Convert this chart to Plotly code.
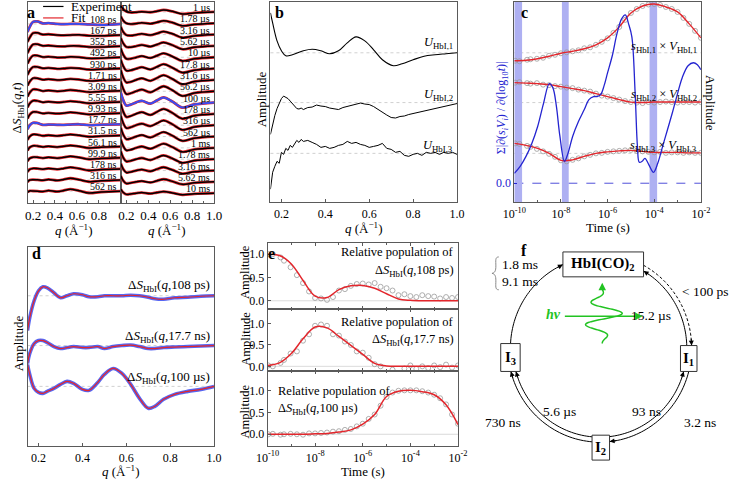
import math
import plotly.graph_objects as go

W, H = 740, 480
SERIF = "Liberation Serif"
RED = "#e3262c"
BLUE = "#2424d0"
DBLUE = "#3a4cf0"
GRAY = "#9a9a9a"
FRAME = "#5a5a5a"
GREEN = "#22c322"

# ---------------- Panel a data ----------------
qa = [0.15, 0.17, 0.2, 0.24, 0.29, 0.34, 0.42, 0.48, 0.54, 0.62, 0.71, 0.82, 1.0]
a_left_labels = ["108 ps", "167 ps", "352 ps", "492 ps", "930 ps", "1.71 ns", "3.09 ns", "5.55 ns",
                 "9.93 ns", "17.7 ns", "31.5 ns", "56.1 ns", "99.9 ns", "178 ns", "316 ns", "562 ns"]
a_left_curves = [
    [-8, -3, 2, 2.5, 0.5, 0.8, 0, -0.3, 0, 0, -0.5, -1, 0],
    [-7, -2.5, 2, 2.2, 0.5, 0.8, 0, -0.3, 0, 0.2, -0.6, -0.8, 0],
    [-7, -2.5, 1.8, 2, 0.4, 0.7, -0.1, -0.2, 0.3, 0.2, -0.8, -0.8, 0],
    [-6.5, -2, 1.8, 1.8, 0.3, 0.7, -0.2, -0.1, 0.5, 0.2, -1, -0.8, 0],
    [-6.5, -2, 1.6, 1.6, 0.2, 0.6, -0.3, 0, 0.6, 0.2, -1.1, -0.7, 0],
    [-6, -2, 1.5, 1.4, 0, 0.5, -0.4, 0, 0.7, 0.1, -1.2, -0.7, 0],
    [-6, -1.8, 1.4, 1.2, -0.2, 0.4, -0.5, 0, 0.8, 0, -1.3, -0.6, 0],
    [-5.5, -1.5, 1.3, 1.1, -0.3, 0.3, -0.5, 0, 0.8, 0, -1.3, -0.6, 0],
    [-5.5, -1.5, 1.2, 1, -0.3, 0.2, -0.5, 0, 0.8, 0, -1.3, -0.6, 0],
    [-5, -1, 1.5, 1.2, -0.6, -0.3, -0.5, -0.6, -0.3, 0, -0.9, -0.4, 0],
    [-4.5, -1, 1, 0.8, -0.3, 0.2, -0.5, 0.2, 1, 0.1, -1.3, -0.6, 0],
    [-4, -0.8, 0.8, 0.6, -0.3, 0.3, -0.5, 0.3, 1.2, 0.2, -1.4, -0.6, 0],
    [-3.5, -0.6, 0.6, 0.5, -0.3, 0.4, -0.4, 0.4, 1.4, 0.3, -1.5, -0.7, 0],
    [-3, -0.4, 0.5, 0.3, -0.3, 0.5, -0.4, 0.5, 1.6, 0.3, -1.6, -0.7, 0],
    [-2, 0, 0.4, 0.2, -0.3, 0.6, -0.4, 0.6, 1.8, 0.4, -1.7, -0.8, 0],
    [-1, 0.3, 0.2, 0, -0.4, 0.6, -0.4, 0.7, 2, 0.4, -1.8, -0.8, 0],
]
a_right_labels = ["1 µs", "1.78 µs", "3.16 µs", "5.62 µs", "10 µs", "17.8 µs", "31.6 µs", "56.2 µs",
                  "100 µs", "178 µs", "316 µs", "562 µs", "1 ms", "1.78 ms", "3.16 ms", "5.62 ms", "10 ms"]
a_right_curves = [
    [6, 3, 0.5, -0.5, -0.3, 0.3, -0.3, 0.8, 2, 0.6, -2, -1, 0],
    [7, 3, 0, -0.8, -0.3, 0.5, -0.4, 1, 2.5, 0.7, -2.5, -1.2, 0],
    [8, 3, -0.5, -1, -0.2, 0.8, -0.5, 1.2, 3, 0.8, -3, -1.3, 0],
    [8, 3, -1, -1.2, -0.2, 1, -0.6, 1.4, 3.5, 0.8, -3.3, -1.4, 0],
    [9, 3, -1.5, -1.5, -0.2, 1.2, -0.7, 1.6, 4, 0.8, -3.6, -1.5, 0],
    [9, 3, -2, -1.7, -0.1, 1.4, -0.8, 1.8, 4.4, 0.9, -4, -1.6, 0],
    [10, 3, -2.5, -1.9, 0, 1.6, -0.9, 2, 4.8, 0.9, -4.4, -1.7, 0],
    [10, 3, -2.8, -2, 0, 1.7, -1, 2.1, 5, 1, -4.7, -1.8, 0],
    [10, 3, -3, -2, 0.2, 1.8, -1, 2.2, 5.2, 1, -5, -1.9, 0],
    [10, 2.8, -3, -2.1, 0.1, 1.7, -1, 2.1, 5, 1, -4.8, -1.8, 0],
    [9.5, 2.7, -2.8, -2, 0.1, 1.6, -0.9, 2, 4.8, 0.9, -4.6, -1.7, 0],
    [9, 2.5, -2.6, -1.9, 0, 1.5, -0.9, 1.9, 4.5, 0.9, -4.3, -1.6, 0],
    [8.5, 2.3, -2.4, -1.8, 0, 1.4, -0.8, 1.8, 4.2, 0.8, -4, -1.5, 0],
    [8, 2, -2.2, -1.6, 0, 1.2, -0.8, 1.6, 3.8, 0.7, -3.6, -1.4, 0],
    [7, 1.8, -2, -1.4, 0, 1, -0.7, 1.4, 3.3, 0.6, -3.1, -1.2, 0],
    [6, 1.5, -1.6, -1.1, 0, 0.8, -0.6, 1.1, 2.6, 0.5, -2.5, -1, 0],
    [4, 1, -1.2, -0.8, 0, 0.6, -0.4, 0.7, 1.6, 0.3, -1.6, -0.6, 0],
]
a_highlight = ["108 ps", "17.7 ns", "100 µs"]

# ---------------- Panel b data ----------------
qb = [0.15, 0.16, 0.18, 0.2, 0.22, 0.25, 0.3, 0.34, 0.38, 0.42, 0.46, 0.5, 0.54, 0.58, 0.62, 0.66,
      0.71, 0.75, 0.8, 0.85, 0.9, 0.95, 1.0]
u1 = [40, 30, 12, 2, -3, -2, 2, 3.5, 2, -1, 2, 10, 16, 12, 3, -7, -13, -11, -7, -3.5, -2, -1, 0]
qb2 = [0.15, 0.16, 0.17, 0.18, 0.19, 0.2, 0.21, 0.22, 0.23, 0.24, 0.25, 0.26, 0.27, 0.28, 0.29, 0.3,
       0.32, 0.34, 0.36, 0.38, 0.4, 0.42, 0.44, 0.46, 0.48, 0.5, 0.52, 0.54, 0.56, 0.58, 0.6, 0.62,
       0.64, 0.66, 0.68, 0.7, 0.72, 0.74, 0.76, 0.78, 0.8, 0.82, 0.84, 0.86, 0.88, 0.9, 0.92, 0.94,
       0.96, 0.98, 1.0]
u2 = [-32, -22, -13, -6, -1, 4, 6.5, 5, 4, 1.5, -1, -3.5, -6, -6.5, -5.5, -7, -5, -4.5, -2.5, -3.5,
      -4, -5.5, -6, -7, -5, -4, -3, -1.5, -0.5, -1.5, -2, -4, -7, -10, -12.5, -15, -15.5, -14, -13.5,
      -12, -11, -10.5, -9, -8.5, -7, -6.5, -5, -4.5, -3.5, -2.5, -1]
u3 = [-36, -19, -13, -8, -10, 1, -1, 5, 3, 8, 6, 10, 13, 11, 14, 12, 13, 11, 9, 6, 7, 5, 6, 8, 9, 12,
      10, 11, 9, 8, 6, 7, 8, 10, 5, 4, 1, 2, -2, -3, -1, 0, -2, 1, 0, 1, -1, 1, 0, 1, -1]
b_labels = ["<i>U</i><sub>HbI,1</sub>", "<i>U</i><sub>HbI,2</sub>", "<i>U</i><sub>HbI,3</sub>"]

# ---------------- Panel c / e data ----------------
fit_t = [1e-10, 3.16e-10, 1e-9, 3.16e-9, 1e-8, 3.16e-8, 1e-7, 3.16e-7, 1e-6, 3.16e-6, 1e-5,
         3.16e-5, 1e-4, 3.16e-4, 1e-3, 3.16e-3, 1e-2]
delays = [108e-12, 167e-12, 352e-12, 492e-12, 930e-12, 1.71e-9, 3.09e-9, 5.55e-9, 9.93e-9, 17.7e-9,
          31.5e-9, 56.1e-9, 99.9e-9, 178e-9, 316e-9, 562e-9, 1e-6, 1.78e-6, 3.16e-6, 5.62e-6, 10e-6,
          17.8e-6, 31.6e-6, 56.2e-6, 100e-6, 178e-6, 316e-6, 562e-6, 1e-3, 1.78e-3, 3.16e-3, 5.62e-3,
          10e-3]
c1_fit = [-8, -7.5, -6, -3.5, -0.5, 1.5, 4, 8, 15, 26, 40, 47, 49, 46, 41, 29, 15]
c2_fit = [20, 19.5, 19, 18, 16, 14, 12, 9, 6, 3, 0.5, 0, 0.5, 0.5, 0.5, 0.5, 0.5]
c3_fit = [10, 8, 5, 0, -7, -6.5, -3, 0, 1.5, 2.5, 3, 2, 1, 1, 1, 0.5, 0.5]
c1_data = [-8, -8.5, -7, -6.5, -6, -5, -3, -2, -0.5, 0.5, 1.5, 2.5, 4.5, 5.5, 8, 11, 14.5, 20, 26, 33,
           40, 44, 47, 48.5, 49, 48, 46, 44, 41, 35, 29, 22, 15]
c2_data = [20, 20.5, 19.5, 19, 19.5, 18, 17.5, 16.5, 16, 15, 14.5, 13, 12, 11, 9, 7, 6, 4.5, 3, 1.5,
           0.5, 0, -0.5, 0.5, 0, 0.5, 1, 0.5, 0, 0.5, 0.5, 0, 0.5]
c3_data = [10, 9.5, 7.5, 6.5, 4.5, 2, -0.5, -3.5, -7, -8, -6.5, -5, -3, -1.5, 0, 0.5, 1.5, 2, 2.5, 3,
           3.5, 2.5, 2, 1.5, 1, 1.5, 0.5, 1, 1, 0.5, 1, 0.5, 0.5]
c_labels = ["<i>s</i><sub>HbI,1</sub> × <i>V</i><sub>HbI,1</sub>",
            "<i>s</i><sub>HbI,2</sub> × <i>V</i><sub>HbI,2</sub>",
            "<i>s</i><sub>HbI,3</sub> × <i>V</i><sub>HbI,3</sub>"]
sum_logt = [-10, -9.75, -9.5, -9.25, -9, -8.75, -8.5, -8.35, -8.2, -8.05, -7.85, -7.7, -7.5, -7.25, -7,
            -6.8, -6.6, -6.45, -6.3, -6.15, -6, -5.8, -5.6, -5.4, -5.24, -5.1, -4.96, -4.82, -4.72,
            -4.64, -4.52, -4.4, -4.24, -4.03, -3.85, -3.64, -3.43, -3.22, -3.0, -2.8, -2.55, -2.32,
            -2.15, -2.0]
sum_vals = [10, 17, 27, 40, 57, 80, 100, 96, 78, 48, 22, 30, 47, 62, 74, 84, 87, 87, 89, 98, 111, 128,
            150, 165, 169, 160, 147, 91, 37, 21, 22, 25, 19, 11, 20, 37, 54, 71, 90, 106, 118, 121,
            119, 114]
band_t = [(1e-10, 2.15e-10), (1.1e-8, 2.15e-8), (6.3e-5, 1.33e-4)]

e1_fit = [1.0, 0.97, 0.79, 0.43, 0.1, 0.07, 0.24, 0.32, 0.33, 0.27, 0.15, 0.04, 0.01, 0, 0, 0, 0]
e2_fit = [0.02, 0.08, 0.3, 0.65, 0.92, 0.9, 0.7, 0.49, 0.28, 0.07, 0.01, 0, 0, 0, 0, 0, 0]
e3_fit = [0, 0, 0, 0, 0.01, 0.02, 0.05, 0.1, 0.23, 0.45, 0.86, 0.98, 1.0, 0.97, 0.9, 0.67, 0.22]
e1_data = [1.0, 1.0, 0.93, 0.86, 0.72, 0.55, 0.38, 0.2, 0.06, 0.05, 0.02, 0.08, 0.22, 0.25, 0.32, 0.36,
           0.37, 0.35, 0.38, 0.3, 0.27, 0.22, 0.12, 0.14, 0.1, 0.08, 0.12, 0.1, 0.09, 0.05, 0.08, 0.06,
           0.08]
e2_data = [0.02, 0.0, 0.08, 0.15, 0.3, 0.35, 0.6, 0.75, 0.95, 0.98, 0.95, 0.75, 0.72, 0.58, 0.5, 0.35,
           0.32, 0.2, 0.05, 0.0, -0.15, -0.08, -0.18, -0.05, 0.02, -0.06, 0.0, -0.04, 0.02, -0.02, 0.04,
           -0.03, 0.02]
e3_data = [0, 0.01, -0.01, 0.0, 0.01, 0.0, -0.01, 0.02, 0.02, 0.03, 0.04, 0.06, 0.07, 0.1, 0.12, 0.18,
           0.24, 0.35, 0.45, 0.65, 0.85, 0.95, 0.99, 1.0, 1.0, 1.0, 0.98, 0.95, 0.9, 0.82, 0.68, 0.45,
           0.24]
e_labels = ["Δ<i>S</i><sub>HbI</sub>(<i>q</i>,108 ps)", "Δ<i>S</i><sub>HbI</sub>(<i>q</i>,17.7 ns)",
            "Δ<i>S</i><sub>HbI</sub>(<i>q</i>,100 µs)"]

# ---------------- Panel d data ----------------
qd = [0.15, 0.16, 0.18, 0.2, 0.22, 0.24, 0.27, 0.3, 0.33, 0.36, 0.4, 0.43, 0.47, 0.5, 0.54, 0.58, 0.62,
      0.66, 0.7, 0.73, 0.77, 0.82, 0.88, 0.94, 1.0]
d108 = [-35, -22, -5, 5, 9, 8, 3, -2, 0, 2, 1, -1, -1, 0, 0, 0, 0.5, 0, -1.5, -3, -3.5, -2, -1.5, -0.5, 0]
d177 = [-18, -8, 2, 5, 5, 3, -1, -3, -2, -1, -2, -2, -1, -3, -1, 0, 0.5, -1, -3, -3, -2, -1.5, -1, -0.5, 0]
d100 = [22, 12, -2, -6, -7, -5, -2, 2, 5, 3, -3, -4, 4, 12, 18, 13, 2, -12, -22, -20, -13, -8, -5, -3, 0]

# ================= figure =================
fig = go.Figure()
shapes = []
anns = []


def xdom(x0, x1):
    return [x0 / W, x1 / W]


def ydom(top, bot):
    return [1 - bot / H, 1 - top / H]


def xax(x0, x1, anchor, rng, **kw):
    d = dict(domain=xdom(x0, x1), anchor=anchor, range=rng, showline=True, mirror=True,
             linecolor=FRAME, linewidth=1, ticks="inside", ticklen=3, tickcolor=FRAME,
             showgrid=False, zeroline=False, fixedrange=True,
             tickfont=dict(family=SERIF, size=12, color="black"))
    d.update(kw)
    return d


def yax(top, bot, anchor, **kw):
    d = dict(domain=ydom(top, bot), anchor=anchor, range=[-bot, -top], showline=True, mirror=True,
             linecolor=FRAME, linewidth=1, showgrid=False, zeroline=False, showticklabels=False,
             ticks="", fixedrange=True)
    d.update(kw)
    return d


def line(xs, ys, xa, ya, color, width, shape="spline", dash="solid", opacity=1.0):
    fig.add_trace(go.Scatter(x=xs, y=ys, xaxis=xa, yaxis=ya, mode="lines",
                             line=dict(color=color, width=width, shape=shape, dash=dash),
                             opacity=opacity, showlegend=False, hoverinfo="skip"))


def circles(xs, ys, xa, ya):
    fig.add_trace(go.Scatter(x=xs, y=ys, xaxis=xa, yaxis=ya, mode="markers",
                             marker=dict(symbol="circle-open", size=5, color=GRAY, line=dict(width=0.8)),
                             showlegend=False, hoverinfo="skip"))


def baseline(xa, ya, yv, color="#c4c4c4", dash="dot"):
    shapes.append(dict(type="line", xref=xa + " domain", yref=ya, x0=0, x1=1, y0=yv, y1=yv,
                       line=dict(color=color, width=0.8, dash=dash), layer="below"))


def text(x, y, s, size=12, xanchor="center", color="black", angle=0, yanchor="middle"):
    anns.append(dict(x=x, y=y, xref="x10", yref="y10", text=s, showarrow=False, xanchor=xanchor,
                     yanchor=yanchor, textangle=angle,
                     font=dict(family=SERIF, size=size, color=color)))


QT = "<i>q</i> (Å<sup>−1</sup>)"
TICK_T = [1e-10, 1e-8, 1e-6, 1e-4, 1e-2]
TICK_TT = ["10<sup>-10</sup>", "10<sup>-8</sup>", "10<sup>-6</sup>", "10<sup>-4</sup>", "10<sup>-2</sup>"]
MINOR_T = dict(tickvals=[1e-9, 1e-7, 1e-5, 1e-3], ticks="inside", ticklen=2, tickcolor=FRAME)

# ---------- panel a ----------
for i, (lab, vals) in enumerate(zip(a_left_labels, a_left_curves)):
    base = 24 + i * 11.2
    ys = [-base + v for v in vals]
    baseline("x", "y", -base)
    col = DBLUE if lab in a_highlight else "black"
    line(qa, ys, "x", "y", RED, 2.8)
    line(qa, ys, "x", "y", col, 2.0 if col == DBLUE else 1.5)
    text(110, base - 4.5, lab, size=10, xanchor="right")
for i, (lab, vals) in enumerate(zip(a_right_labels, a_right_curves)):
    base = 12 + i * 11.375
    ys = [-base + v for v in vals]
    baseline("x2", "y2", -base)
    col = DBLUE if lab in a_highlight else "black"
    line(qa, ys, "x2", "y2", RED, 2.8)
    line(qa, ys, "x2", "y2", col, 2.0 if col == DBLUE else 1.5)
    text(206, base - 4.5, lab, size=10, xanchor="right")

# legend of panel a
shapes.append(dict(type="line", xref="x10", yref="y10", x0=32, x1=53, y0=6.5, y1=6.5,
                   line=dict(color="black", width=1.2), layer="above"))
shapes.append(dict(type="line", xref="x10", yref="y10", x0=32, x1=53, y0=18, y1=18,
                   line=dict(color=RED, width=1.2), layer="above"))
text(59, 6.5, "Experiment", size=13, xanchor="left")
text(59, 18, "Fit", size=13, xanchor="left")

# ---------- panel b ----------
b_bases = [53, 103, 154]
for yb in b_bases:
    baseline("x3", "y3", -yb)
line(qb, [-b_bases[0] + v for v in u1], "x3", "y3", "black", 1.1)
line(qb2, [-b_bases[1] + v for v in u2], "x3", "y3", "black", 1.0, shape="linear")
line(qb2, [-b_bases[2] + v for v in u3], "x3", "y3", "black", 1.0, shape="linear")
for lab, yl in zip(b_labels, [43, 95, 147]):
    text(456, yl, lab, size=12.5, xanchor="right")

# ---------- panel c ----------
for (t0, t1) in band_t:
    fig.add_trace(go.Scatter(x=[t0, t0, t1, t1], y=[-203, -2, -2, -203], xaxis="x4", yaxis="y4",
                             mode="lines", fill="toself", fillcolor="#aeb0f2", line=dict(width=0),
                             showlegend=False, hoverinfo="skip"))
c_bases = [53, 103, 154]
for yb in c_bases:
    baseline("x4", "y4", -yb)
baseline("x4", "y4", -184, color=BLUE, dash="dash")
for yb, fv, dv in zip(c_bases, [c1_fit, c2_fit, c3_fit], [c1_data, c2_data, c3_data]):
    circles(delays, [-yb + v for v in dv], "x4", "y4")
    line(fit_t, [-yb + v for v in fv], "x4", "y4", RED, 1.4)
line([10 ** v for v in sum_logt], [-184 + v for v in sum_vals], "x4", "y4", BLUE, 1.3)
for lab, yl in zip(c_labels, [47, 95, 147]):
    text(707, yl, lab, size=12.5, xanchor="right")

# ---------- panel d ----------
d_bases = [297, 347, 388]
for yb in d_bases:
    baseline("x6", "y6", -yb)
for yb, vals in zip(d_bases, [d108, d177, d100]):
    ys = [-yb + v for v in vals]
    line(qd, ys, "x6", "y6", DBLUE, 3.6, opacity=0.85)
    line(qd, ys, "x6", "y6", RED, 1.2)
text(206, 287, "Δ<i>S</i><sub>HbI</sub>(<i>q</i>,108 ps)", size=13, xanchor="right")
text(206, 338, "Δ<i>S</i><sub>HbI</sub>(<i>q</i>,17.7 ns)", size=13, xanchor="right")
text(206, 379, "Δ<i>S</i><sub>HbI</sub>(<i>q</i>,100 µs)", size=13, xanchor="right")

# ---------- panel e ----------
for xa, ya, fv, dv in [("x7", "y7", e1_fit, e1_data), ("x8", "y8", e2_fit, e2_data),
                       ("x9", "y9", e3_fit, e3_data)]:
    baseline(xa, ya, 0, color="#d0d0d0", dash="solid")
    circles(delays, dv, xa, ya)
    line(fit_t, fv, xa, ya, RED, 1.5)
text(457, 253, "Relative population of", size=12.5, xanchor="right")
text(457, 272, e_labels[0], size=12.5, xanchor="right")
text(457, 323, "Relative population of", size=12.5, xanchor="right")
text(457, 341, e_labels[1], size=12.5, xanchor="right")
text(272, 393, "Relative population of", size=12.5, xanchor="left")
text(272, 411, e_labels[2], size=12.5, xanchor="left")

# ---------- axis titles / panel letters ----------
text(6, 108, "Δ<i>S</i><sub>HbI</sub>(<i>q</i>,<i>t</i>)", size=13, angle=-90)
text(64, 231, QT, size=13)
text(160, 231, QT, size=13)
text(257, 100, "Amplitude", size=13, angle=-90)
text(362, 229, QT, size=13)
text(504, 108, "Σ|∂(<i>s<sub>i</sub>V<sub>i</sub></i>) / ∂(log<sub>10</sub><i>t</i>)|", size=12,
     angle=-90, color=BLUE)
text(719, 103, "Amplitude", size=13, angle=90)
text(613, 228, "Time (s)", size=13)
text(7, 345, "Amplitude", size=13, angle=-90)
text(112, 473, QT, size=13)
for yc in [273, 340, 413]:
    text(240, yc, "Amplitude", size=12.5, angle=-90)
text(361, 473, "Time (s)", size=13)
for lab, x, y in [("a", 20, 13), ("b", 275, 13), ("c", 527, 13), ("d", 25, 255), ("e", 267, 255),
                  ("f", 527, 252)]:
    text(x, y, "<b>" + lab + "</b>", size=16)

# ---------- panel f (diagram) ----------
CX, CY = 605.0, 349.5


def pt(r, a):
    return CX + r * math.cos(math.radians(a)), CY - r * math.sin(math.radians(a))


def ang_x(r, x, lower=False):
    a = math.degrees(math.acos((x - CX) / r))
    return -a if lower else a


def ang_y(r, y, left=False):
    a = math.degrees(math.asin((CY - y) / r))
    return 180 - a if left else a


arcs = [
    (92.0, ang_y(92.0, 345, True), ang_x(92.0, 567), "solid"),
    (94.5, ang_x(94.5, 650), ang_y(94.5, 347), "3px,2px"),
    (89.5, ang_y(89.5, 347), ang_x(89.5, 650), "solid"),
    (94.5, ang_y(94.5, 373), ang_x(94.5, 615, True), "solid"),
    (89.5, ang_x(89.5, 615, True), ang_y(89.5, 373), "solid"),
    (94.5, ang_x(94.5, 597, True), ang_y(94.5, 373, True) - 360, "solid"),
    (89.5, ang_x(89.5, 597, True), ang_y(89.5, 373, True) - 360, "solid"),
]
for r, a0, a1, dash in arcs:
    n = 40
    pts = [pt(r, a0 + (a1 - a0) * k / n) for k in range(n + 1)]
    path = "M " + " L ".join(f"{x:.2f},{y:.2f}" for x, y in pts)
    shapes.append(dict(type="path", xref="x10", yref="y10", path=path,
                       line=dict(color="black", width=1, dash=dash), layer="above"))
    sgn = 1 if a1 > a0 else -1
    tx, ty = pt(r, a1 - sgn * 5)
    hx, hy = pt(r, a1)
    anns.append(dict(x=hx, y=hy, ax=tx, ay=ty, xref="x10", yref="y10", axref="x10", ayref="y10",
                     text="", showarrow=True, arrowhead=2, arrowsize=1, arrowwidth=1,
                     arrowcolor="black", standoff=0, startstandoff=0))

for (x0, y0, x1, y1) in [(567, 253, 650, 278), (688, 347, 705, 373), (503, 345, 523, 373),
                         (597, 437, 615, 462)]:
    shapes.append(dict(type="rect", xref="x10", yref="y10", x0=x0, y0=y0, x1=x1, y1=y1,
                       fillcolor="white", line=dict(color="#333", width=1), layer="above"))
text(608.5, 265.5, "<b>HbI(CO)<sub>2</sub></b>", size=15)
text(696.5, 360, "<b>I<sub>1</sub></b>", size=15)
text(513, 359, "<b>I<sub>3</sub></b>", size=15)
text(606, 449.5, "<b>I<sub>2</sub></b>", size=15)

text(714, 293, "&lt; 100 ps", size=13.5)
text(658, 317, "15.2 µs", size=13.5)
text(653, 413, "93 ns", size=13.5)
text(708, 424, "3.2 ns", size=13.5)
text(563, 413, "5.6 µs", size=13.5)
text(505, 424, "730 ns", size=13.5)
text(523, 266, "1.8 ms", size=13.5)
text(523, 283, "9.1 ms", size=13.5)
text(557, 316, "<b><i>hv</i></b>", size=14, color=GREEN)
shapes.append(dict(type="path", xref="x10", yref="y10",
                   path="M 501,258 C 497,258 498,262 498,267 C 498,272 497,274 494,274.5 "
                        "C 497,275 498,277 498,282 C 498,287 497,291 501,291",
                   line=dict(color="#888", width=1), layer="above"))

# green photon wave packet (decorative geometry)
wpts = []
for k in range(121):
    f = k / 120.0
    yy = 345 - 55 * f
    env = math.sin(math.pi * f) ** 1.5
    xx = 607.5 + 21 * env * math.sin(2 * math.pi * f * 2.25)
    wpts.append((xx, yy))
shapes.append(dict(type="path", xref="x10", yref="y10",
                   path="M " + " L ".join(f"{x:.2f},{y:.2f}" for x, y in wpts),
                   line=dict(color=GREEN, width=1.5), layer="above"))
shapes.append(dict(type="line", xref="x10", yref="y10", x0=569, y0=317.5, x1=642, y1=317.5,
                   line=dict(color=GREEN, width=1.5), layer="above"))
for (hx, hy, tx, ty) in [(649, 317.5, 640, 317.5), (607.5, 284, 607.5, 292)]:
    anns.append(dict(x=hx, y=hy, ax=tx, ay=ty, xref="x10", yref="y10", axref="x10", ayref="y10",
                     text="", showarrow=True, arrowhead=2, arrowsize=1, arrowwidth=1.5,
                     arrowcolor=GREEN, standoff=0, startstandoff=0))

# dummy trace for the pixel overlay axes
fig.add_trace(go.Scatter(x=[0], y=[0], xaxis="x10", yaxis="y10", mode="markers",
                         marker=dict(opacity=0), showlegend=False, hoverinfo="skip"))

fig.update_layout(
    width=W, height=H, margin=dict(l=0, r=0, t=0, b=0),
    paper_bgcolor="white", plot_bgcolor="rgba(0,0,0,0)",
    font=dict(family=SERIF, size=12, color="black"),
    showlegend=False,
    xaxis=xax(16, 112, "y", [0.15, 1.0], tickvals=[0.2, 0.4, 0.6, 0.8], ticktext=["0.2", "0.4", "0.6", "0.8"],
              tickfont=dict(family=SERIF, size=13),
              minor=dict(dtick=0.1, ticks="inside", ticklen=2, tickcolor=FRAME)),
    yaxis=yax(2, 204, "x"),
    xaxis2=xax(112, 208, "y2", [0.15, 1.0], tickvals=[0.2, 0.4, 0.6, 0.8, 1.0],
               ticktext=["0.2", "0.4", "0.6", "0.8", "1.0"], tickfont=dict(family=SERIF, size=13),
               minor=dict(dtick=0.1, ticks="inside", ticklen=2, tickcolor=FRAME)),
    yaxis2=yax(2, 204, "x2"),
    xaxis3=xax(266, 458, "y3", [0.15, 1.0], tickvals=[0.2, 0.4, 0.6, 0.8, 1.0],
               ticktext=["0.2", "0.4", "0.6", "0.8", "1.0"]),
    yaxis3=yax(2, 203, "x3"),
    xaxis4=xax(517, 709, "y4", [-10, -2], type="log", tickvals=TICK_T, ticktext=TICK_TT, minor=MINOR_T),
    yaxis4=yax(2, 203, "x4", showticklabels=True, tickvals=[-184], ticktext=["0.0"], ticks="inside",
               ticklen=3, tickcolor=BLUE, tickfont=dict(family=SERIF, size=12, color=BLUE)),
    xaxis6=xax(16, 208, "y6", [0.15, 1.0], tickvals=[0.2, 0.4, 0.6, 0.8, 1.0],
               ticktext=["0.2", "0.4", "0.6", "0.8", "1.0"]),
    yaxis6=yax(248, 448, "x6"),
    xaxis7=xax(263, 459, "y7", [-10, -2], type="log", tickvals=TICK_T, showticklabels=False,
               mirror="ticks", minor=MINOR_T),
    yaxis7=dict(domain=ydom(244, 310), anchor="x7", range=[-0.17, 1.24], showline=True, mirror=True,
                linecolor=FRAME, linewidth=1, showgrid=False, zeroline=False, ticks="inside", ticklen=3,
                tickcolor=FRAME, tickvals=[0, 0.5, 1.0], ticktext=["0.0", "0.5", "1.0"],
                tickfont=dict(family=SERIF, size=12), fixedrange=True),
    xaxis8=xax(263, 459, "y8", [-10, -2], type="log", tickvals=TICK_T, showticklabels=False,
               mirror="ticks", minor=MINOR_T),
    yaxis8=dict(domain=ydom(310, 373), anchor="x8", range=[-0.12, 1.35], showline=True, mirror=True,
                linecolor=FRAME, linewidth=1, showgrid=False, zeroline=False, ticks="inside", ticklen=3,
                tickcolor=FRAME, tickvals=[0, 0.5, 1.0], ticktext=["0.0", "0.5", "1.0"],
                tickfont=dict(family=SERIF, size=12), fixedrange=True),
    xaxis9=xax(263, 459, "y9", [-10, -2], type="log", tickvals=TICK_T, ticktext=TICK_TT,
               mirror="ticks", minor=MINOR_T),
    yaxis9=dict(domain=ydom(373, 448), anchor="x9", range=[-0.27, 1.43], showline=True, mirror=True,
                linecolor=FRAME, linewidth=1, showgrid=False, zeroline=False, ticks="inside", ticklen=3,
                tickcolor=FRAME, tickvals=[0, 0.5, 1.0], ticktext=["0.0", "0.5", "1.0"],
                tickfont=dict(family=SERIF, size=12), fixedrange=True),
    xaxis10=dict(domain=[0, 1], anchor="y10", range=[0, W], visible=False, fixedrange=True),
    yaxis10=dict(domain=[0, 1], anchor="x10", range=[H, 0], visible=False, fixedrange=True),
    shapes=shapes,
    annotations=anns,
)

fig.write_html("out.html", config={"displayModeBar": False},
               post_script="document.body.style.margin='0px';document.body.style.overflow='hidden';")
